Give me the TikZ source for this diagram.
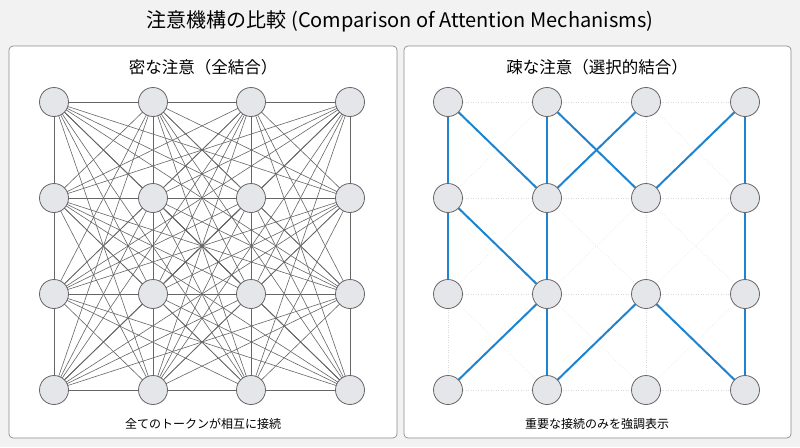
\documentclass[tikz,border=0pt]{standalone}
\usepackage{fontspec}
\setmainfont{Noto Sans CJK JP}
\definecolor{sblue}{RGB}{30,132,208}
\definecolor{tokfill}{RGB}{228,230,234}
\begin{document}
\begin{tikzpicture}[x=1pt,y=-1pt,
  tok/.style={circle,draw=black!60,fill=tokfill,line width=0.8pt,minimum size=29pt,inner sep=0pt},
  panel/.style={draw=black!45,fill=white,rounded corners=4pt,line width=0.7pt},
  dense/.style={draw=black!60,line width=0.6pt},
  faint/.style={draw=black!15,dotted,line width=0.5pt},
  strong/.style={draw=sblue,line width=2pt}]
\fill[gray!10] (0,0) rectangle (800,447);
\useasboundingbox (0,0) rectangle (800,447);
\node (title) at (400,21) {\fontsize{20}{23}\selectfont 注意機構の比較\ (Comparison of Attention Mechanisms)};
\draw[panel] (9,46) rectangle (397,438);
\draw[panel] (404,46) rectangle (791,438);
\node (lt) at (203,67) {\fontsize{16.5}{19}\selectfont 密な注意（全結合）};
\node (rt) at (597,67) {\fontsize{16.5}{19}\selectfont 疎な注意（選択的結合）};
\node (lc) at (203,424) {\fontsize{12}{14}\selectfont 全てのトークンが相互に接続};
\node (rc) at (597,424) {\fontsize{12}{14}\selectfont 重要な接続のみを強調表示};
\foreach \c/\x in {0/54,1/153,2/251,3/350}{
  \foreach \r/\y in {0/102,1/198,2/294,3/390}{
    \coordinate (L\c\r) at (\x,\y);}}
\foreach \c/\x in {0/448,1/547,2/646,3/745}{
  \foreach \r/\y in {0/102,1/198,2/294,3/390}{
    \coordinate (R\c\r) at (\x,\y);}}
\foreach \i in {0,...,15}{
  \foreach \j in {0,...,15}{
    \ifnum\i<\j
      \pgfmathtruncatemacro\ci{mod(\i,4)}\pgfmathtruncatemacro\ri{div(\i,4)}
      \pgfmathtruncatemacro\cj{mod(\j,4)}\pgfmathtruncatemacro\rj{div(\j,4)}
      \draw[dense] (L\ci\ri) -- (L\cj\rj);
    \fi}}
\foreach \a in {0,1,2,3}{
  \draw[faint] (R0\a) -- (R3\a);
  \draw[faint] (R\a0) -- (R\a3);}
\foreach \c/\d in {0/1,1/2,2/3}{
  \foreach \r/\s in {0/1,1/2,2/3}{
    \draw[faint] (R\c\r) -- (R\d\s);
    \draw[faint] (R\d\r) -- (R\c\s);}}
\foreach \a/\b in {00/01,00/11,10/11,10/21,20/11,30/21,30/31,01/02,01/12,11/12,31/32,12/03,12/13,22/13,22/33,32/33}{
  \draw[strong] (R\a) -- (R\b);}
\foreach \c in {0,1,2,3}{
  \foreach \r in {0,1,2,3}{
    \node[tok] (l\c\r) at (L\c\r) {};
    \node[tok] (r\c\r) at (R\c\r) {};}}
\end{tikzpicture}
\end{document}
